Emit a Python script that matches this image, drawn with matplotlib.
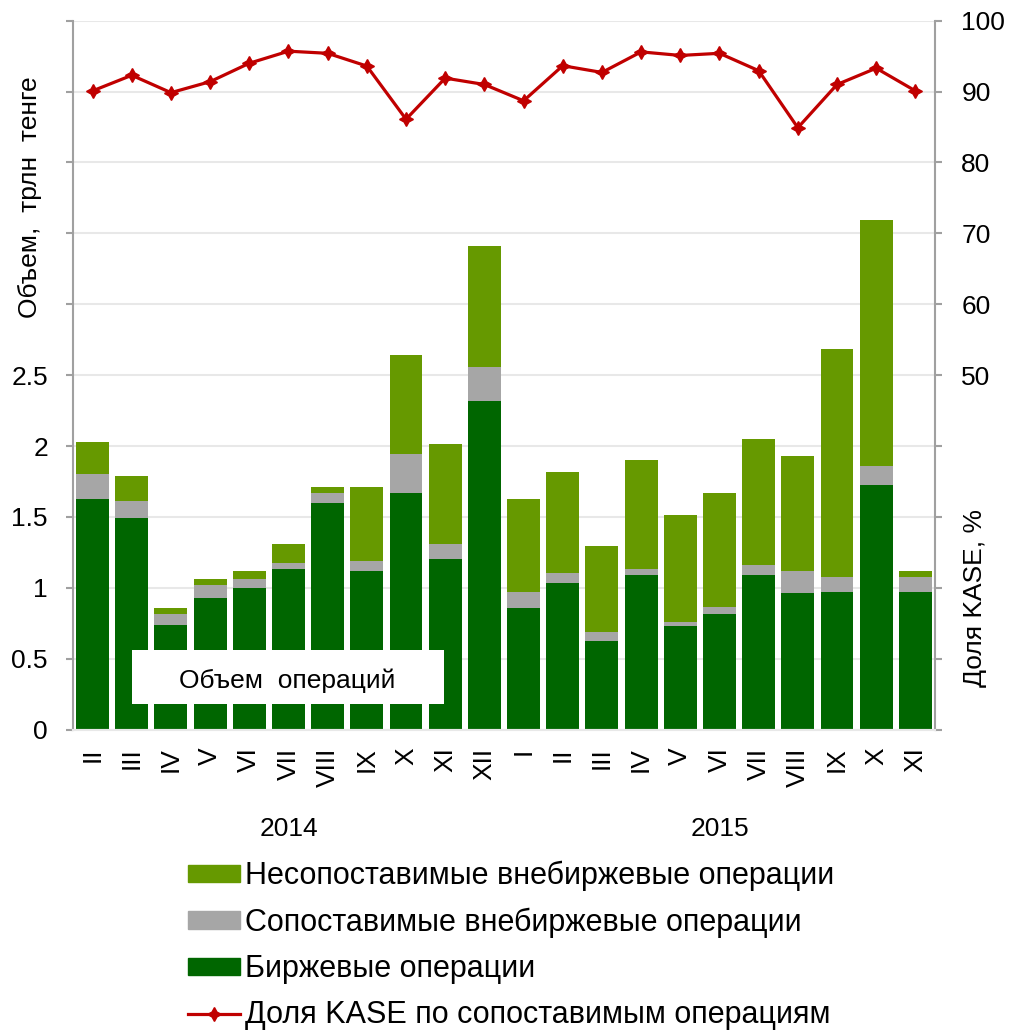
import matplotlib
matplotlib.use("Agg")
import matplotlib.pyplot as plt
import numpy as np
from matplotlib.patches import Rectangle

plt.rcParams["font.family"] = ["Liberation Sans", "DejaVu Sans"]

# months: Feb 2014 .. Nov 2015
months = ["II", "III", "IV", "V", "VI", "VII", "VIII", "IX", "X", "XI", "XII",
          "I", "II", "III", "IV", "V", "VI", "VII", "VIII", "IX", "X", "XI"]
years = ["2014", "2015"]
year_sizes = [11, 11]

# volumes, trln tenge (stack tops)
exchange = [1.625, 1.494, 0.74, 0.93, 1.00, 1.131, 1.595, 1.117, 1.667, 1.204, 2.318,
            0.856, 1.032, 0.624, 1.088, 0.730, 0.812, 1.088, 0.961, 0.973, 1.725, 0.973]
comparable_top = [1.80, 1.61, 0.815, 1.019, 1.063, 1.176, 1.667, 1.19, 1.946, 1.307, 2.554,
                  0.973, 1.105, 0.685, 1.135, 0.760, 0.861, 1.163, 1.121, 1.079, 1.859, 1.079]
total_top = [2.03, 1.785, 0.857, 1.061, 1.12, 1.307, 1.712, 1.712, 2.639, 2.016, 3.41,
             1.627, 1.817, 1.294, 1.901, 1.512, 1.669, 2.049, 1.931, 2.686, 3.597, 1.121]
# KASE share of comparable operations, %
kase_share = [90.1, 92.3, 89.85, 91.4, 94.0, 95.7, 95.4, 93.6, 86.1, 91.9, 91.0,
              88.7, 93.65, 92.7, 95.6, 95.1, 95.4, 92.95, 84.9, 91.0, 93.3, 90.1]

exchange = np.array(exchange)
comparable = np.array(comparable_top) - exchange
noncomparable = np.array(total_top) - np.array(comparable_top)

C_LIGHT = "#669900"
C_GREY = "#a6a6a6"
C_DARK = "#006600"
C_RED = "#c00000"
C_AXIS = "#a0a0a0"
C_GRID = "#e8e8e8"
FS = 19

fig = plt.figure(figsize=(10.11, 10.30), dpi=100)
ax = fig.add_axes([0.0722, 0.2917, 0.8526, 0.6882])
ax2 = ax.twinx()

x = np.arange(len(months))
w = 0.84
ax.bar(x, exchange, w, color=C_DARK, zorder=2)
ax.bar(x, comparable, w, bottom=exchange, color=C_GREY, zorder=2)
ax.bar(x, noncomparable, w, bottom=exchange + comparable, color=C_LIGHT, zorder=2)

ax2.plot(x, kase_share, color=C_RED, lw=2.3, marker=(4, 1, 0), ms=10,
         mec=C_RED, mfc=C_RED, zorder=3)

ax.set_xlim(-0.5, len(months) - 0.5)
ax.set_ylim(0, 5)
ax2.set_ylim(0, 100)

lt = np.arange(0, 5.01, 0.5)
ax.set_yticks(lt)
ax.set_yticklabels([("%g" % v) if v <= 2.5 else "" for v in lt], fontsize=FS)
rt = np.arange(0, 101, 10)
ax2.set_yticks(rt)
ax2.set_yticklabels([("%d" % v) if v >= 50 else "" for v in rt], fontsize=FS)

ax.set_xticks(x)
ax.set_xticklabels(months, rotation=90, fontsize=FS, va="top")
ax.tick_params(axis="x", length=0, pad=13)
ax.tick_params(axis="y", direction="out", length=5, width=1.5, color=C_AXIS, pad=13)
ax2.tick_params(axis="y", direction="out", length=5, width=1.5, color=C_AXIS, pad=14)

ax.yaxis.grid(True, color=C_GRID, lw=1.5, zorder=0)
ax.set_axisbelow(True)
for a in (ax, ax2):
    a.spines["top"].set_visible(False)
    a.spines["bottom"].set_color(C_GRID)
    a.spines["bottom"].set_linewidth(1.5)
    a.spines["left"].set_color(C_AXIS)
    a.spines["left"].set_linewidth(1.5)
    a.spines["right"].set_color(C_AXIS)
    a.spines["right"].set_linewidth(1.5)
ax.spines["right"].set_visible(False)
ax2.spines["left"].set_visible(False)

ax.set_ylabel("Объем,  трлн  тенге", fontsize=FS)
ax.yaxis.set_label_coords(-0.036, 0.751)
ax2.set_ylabel("Доля KASE, %", fontsize=FS)
ax2.yaxis.set_label_coords(1.0325, 0.1855)

# year captions under each group of months
start = 0
for yr, n in zip(years, year_sizes):
    ax.text(start + (n - 1) / 2, -0.14, yr, transform=ax.get_xaxis_transform(),
            ha="center", va="center", fontsize=FS)
    start += n

# white caption box over the bars
ax2.add_patch(Rectangle((0.0684, 0.036), 0.362, 0.076, transform=ax.transAxes,
                        facecolor="white", edgecolor="none", zorder=5))
ax2.text(0.249, 0.069, "Объем  операций", transform=ax.transAxes, ha="center",
         va="center", fontsize=FS, zorder=6)

handles = [
    plt.Rectangle((0, 0), 1, 1, color=C_LIGHT),
    plt.Rectangle((0, 0), 1, 1, color=C_GREY),
    plt.Rectangle((0, 0), 1, 1, color=C_DARK),
    plt.Line2D([], [], color=C_RED, lw=2.3, marker=(4, 1, 0), ms=10),
]
labels = ["Несопоставимые внебиржевые операции",
          "Сопоставимые внебиржевые операции",
          "Биржевые операции",
          "Доля KASE по сопоставимым операциям"]
fig.legend(handles, labels, loc="upper left", bbox_to_anchor=(188 / 1011, 1 - 861 / 1030),
           frameon=False, fontsize=22, handlelength=1.7, handleheight=0.5,
           handletextpad=0.16, labelspacing=0.53, borderaxespad=0, borderpad=0)

fig.savefig("out.png", dpi=100)
